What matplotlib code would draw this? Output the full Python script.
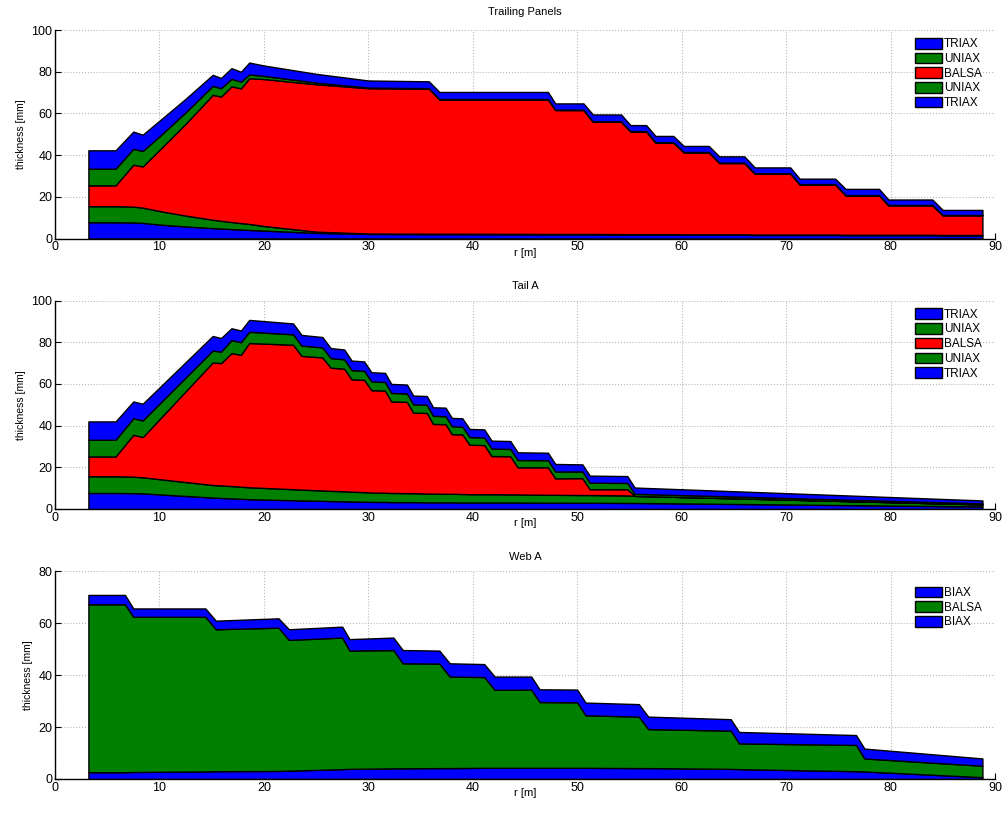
import matplotlib
matplotlib.use('agg')
import matplotlib.pyplot as plt

plt.rcParams['font.family'] = ['Liberation Sans', 'DejaVu Sans']

BLUE = '#0000ff'
GREEN = '#008000'
RED = '#ff0000'

# Trailing Panels: layer thickness [mm] along r [m], bottom layer first
tp_r = [3.2, 5.8, 7.5, 8.4, 10, 12.5, 15.1, 15.9, 16.9, 17.8, 18.6, 20, 25, 30,
        35.8, 36.8, 47.2, 47.9, 50.6, 51.5, 54.2, 55.1, 56.6, 57.5, 59.2, 60.2,
        62.6, 63.6, 66.0, 67.0, 70.4, 71.3, 74.7, 75.7, 78.9, 79.8, 84.0, 85.0, 88.8]
tp_triax_in = [7.8, 7.8, 7.7, 7.5, 6.7, 5.8, 5.0, 4.8, 4.5, 4.3, 4.1, 3.8, 2.7, 2.2,
               2.1, 2.1, 2.0, 2.0, 2.0, 2.0, 1.9, 1.9, 1.9, 1.9, 1.9, 1.8,
               1.8, 1.8, 1.8, 1.7, 1.7, 1.7, 1.7, 1.6, 1.6, 1.6, 1.6, 1.5, 1.5]
tp_uniax_in = [7.7, 7.7, 7.6, 7.3, 6.5, 5.2, 4.0, 3.7, 3.4, 3.1, 2.9, 2.2, 0.6, 0.2,
               0.2, 0.2, 0.2, 0.2, 0.2, 0.2, 0.2, 0.2, 0.2, 0.2, 0.2, 0.2,
               0.2, 0.2, 0.2, 0.2, 0.2, 0.2, 0.2, 0.2, 0.2, 0.2, 0.2, 0.2, 0.2]
tp_balsa = [10.0, 10.0, 20.1, 19.8, 29.3, 44.0, 59.9, 59.6, 65.1, 64.6, 69.9, 70.5, 70.7, 69.7,
            69.6, 64.4, 64.5, 59.4, 59.4, 53.8, 53.9, 49.2, 49.2, 43.9, 43.9, 39.3,
            39.3, 34.2, 34.2, 29.2, 29.2, 24.0, 24.0, 18.8, 18.8, 14.1, 14.1, 9.4, 9.4]
tp_uniax_out = [8.0, 8.0, 7.6, 7.4, 6.5, 5.5, 4.3, 4.0, 3.6, 3.2, 1.8, 1.5, 0.8, 0.3,
                0.2, 0.2, 0.2, 0.2, 0.2, 0.2, 0.2, 0.2, 0.2, 0.2, 0.2, 0.2,
                0.2, 0.2, 0.2, 0.2, 0.2, 0.2, 0.2, 0.2, 0.2, 0.2, 0.2, 0.2, 0.2]
tp_triax_out = [8.8, 8.8, 8.3, 7.8, 7.5, 6.5, 5.3, 4.9, 5.1, 4.8, 5.7, 5.0, 4.2, 3.4,
                3.3, 3.4, 3.4, 3.0, 3.0, 3.3, 3.3, 2.9, 2.9, 3.0, 3.0, 2.9,
                2.9, 3.0, 3.0, 2.8, 2.8, 2.6, 2.6, 3.0, 3.0, 2.6, 2.6, 2.4, 2.4]

# Tail A
ta_r = [3.2, 5.8, 7.5, 8.4, 15.1, 15.9, 16.9, 17.8, 18.6, 22.8, 23.6, 25.6, 26.4,
        27.7, 28.4, 29.6, 30.3, 31.6, 32.2, 33.7, 34.3, 35.6, 36.2, 37.4, 38.0,
        39.0, 39.7, 41.1, 41.8, 43.6, 44.3, 47.2, 47.9, 50.5, 51.2, 54.8, 55.5, 88.8]
ta_triax_in = [7.7, 7.7, 7.6, 7.5, 5.5, 5.3, 5.1, 4.9, 4.7, 4.2, 4.1, 3.9, 3.8,
               3.7, 3.6, 3.5, 3.4, 3.4, 3.3, 3.3, 3.3, 3.2, 3.2, 3.2, 3.2,
               3.1, 3.1, 3.1, 3.1, 3.1, 3.1, 3.0, 3.0, 3.0, 3.0, 2.9, 2.9, 1.2]
ta_uniax_in = [8.0, 8.0, 7.9, 7.7, 6.0, 6.0, 5.9, 5.8, 5.7, 5.3, 5.2, 5.0, 4.9,
               4.8, 4.7, 4.6, 4.5, 4.4, 4.4, 4.3, 4.3, 4.2, 4.2, 4.1, 4.1,
               4.1, 4.0, 4.0, 4.0, 3.9, 3.9, 3.8, 3.8, 3.7, 3.7, 3.6, 3.4, 1.0]
ta_balsa = [9.5, 9.5, 20.1, 19.3, 58.8, 58.7, 63.8, 63.3, 69.2, 69.3, 64.2, 63.8, 59.1,
            58.8, 53.9, 53.9, 49.1, 49.0, 43.9, 43.8, 38.6, 38.7, 33.4, 33.4, 28.6,
            28.6, 23.7, 23.6, 18.3, 18.3, 13.0, 13.2, 7.9, 8.1, 2.8, 3.0, 0.0, 0.0]
ta_uniax_out = [8.0, 8.0, 7.9, 8.0, 5.7, 5.5, 6.2, 6.0, 5.4, 5.0, 4.9, 4.8, 4.6,
                4.5, 4.4, 4.3, 4.2, 4.1, 4.1, 4.0, 4.0, 3.9, 3.9, 3.8, 3.8,
                3.7, 3.7, 3.6, 3.6, 3.5, 3.5, 3.4, 3.3, 3.2, 3.1, 3.0, 1.0, 0.5]
ta_triax_out = [8.8, 8.8, 8.1, 8.0, 7.0, 6.5, 5.7, 5.6, 5.7, 5.2, 5.1, 5.0, 4.8,
                4.7, 4.6, 4.5, 4.4, 4.4, 4.3, 4.3, 4.2, 4.2, 4.1, 4.1, 4.0,
                4.0, 3.9, 3.9, 3.8, 3.8, 3.7, 3.6, 3.6, 3.4, 3.4, 3.3, 3.0, 1.4]

# Web A
wa_r = [3.2, 6.7, 7.5, 14.4, 15.4, 21.4, 22.4, 27.5, 28.2, 32.4, 33.3, 36.8, 37.8,
        41.1, 42.1, 45.6, 46.4, 50.0, 50.8, 55.9, 56.8, 64.7, 65.5, 76.7, 77.5, 88.8]
wa_biax_in = [2.6, 2.6, 2.7, 2.9, 3.0, 3.1, 3.2, 3.8, 3.9, 4.1, 4.1, 4.2, 4.2,
              4.3, 4.3, 4.3, 4.3, 4.3, 4.3, 4.2, 4.2, 3.9, 3.8, 3.0, 2.9, 0.7]
wa_balsa = [64.6, 64.6, 59.7, 59.5, 54.6, 55.1, 50.3, 50.6, 45.5, 45.5, 40.4, 40.2, 35.2,
            34.9, 30.0, 30.1, 25.3, 25.2, 20.2, 19.8, 15.0, 14.7, 9.9, 10.1, 5.0, 4.4]
wa_biax_out = [3.6, 3.6, 3.2, 3.2, 3.3, 3.6, 4.1, 4.2, 4.4, 4.8, 5.1, 5.0, 5.1,
               5.0, 5.1, 5.0, 4.9, 4.9, 4.9, 4.8, 4.8, 4.4, 4.4, 3.8, 3.8, 2.8]

panels = [
    ("Trailing Panels", tp_r,
     [tp_triax_in, tp_uniax_in, tp_balsa, tp_uniax_out, tp_triax_out],
     ["TRIAX", "UNIAX", "BALSA", "UNIAX", "TRIAX"],
     [BLUE, GREEN, RED, GREEN, BLUE], 100),
    ("Tail A", ta_r,
     [ta_triax_in, ta_uniax_in, ta_balsa, ta_uniax_out, ta_triax_out],
     ["TRIAX", "UNIAX", "BALSA", "UNIAX", "TRIAX"],
     [BLUE, GREEN, RED, GREEN, BLUE], 100),
    ("Web A", wa_r,
     [wa_biax_in, wa_balsa, wa_biax_out],
     ["BIAX", "BALSA", "BIAX"],
     [BLUE, GREEN, BLUE], 80),
]

fig = plt.figure(figsize=(10.05, 8.14), dpi=100)
# axes rectangles in figure fraction (left, bottom, width, height)
rects = [(0.0547, 0.707, 0.9353, 0.2561),
         (0.0547, 0.3747, 0.9353, 0.2561),
         (0.0547, 0.043, 0.9353, 0.2555)]
title_pads = [11, 8, 8]
legend_tops = [0.962, 0.962, 0.925]

for (title, r, layers, labels, colors, ymax), rect, tpad, ltop in zip(
        panels, rects, title_pads, legend_tops):
    ax = fig.add_axes(rect)
    ax.set_axisbelow(True)
    ax.grid(True, linestyle=':', color='#b8b8b8', linewidth=0.8)
    ax.stackplot(r, *layers, colors=colors, edgecolor='black',
                 linewidth=1.0, labels=labels)
    ax.set_xlim(0, 90)
    ax.set_ylim(0, ymax)
    ax.set_xticks(range(0, 91, 10))
    ax.set_yticks(range(0, ymax + 1, 20))
    ax.spines['top'].set_visible(False)
    ax.spines['right'].set_visible(False)
    for s in ('left', 'bottom'):
        ax.spines[s].set_linewidth(1.0)
    ax.tick_params(direction='in', length=4, width=0.8, labelsize=9,
                   top=False, right=False, pad=2)
    ax.set_title(title, fontsize=8, pad=tpad)
    ax.set_xlabel("r [m]", fontsize=8, labelpad=-4)
    ax.set_ylabel("thickness [mm]", fontsize=7.5, labelpad=4)
    ax.legend(loc='upper right', bbox_to_anchor=(0.986, ltop),
              frameon=False, fontsize=8.5, handlelength=2.3,
              handleheight=1.0, handletextpad=0.15, labelspacing=0.2,
              borderaxespad=0.0, borderpad=0.0)

fig.savefig('out.png', dpi=100)
